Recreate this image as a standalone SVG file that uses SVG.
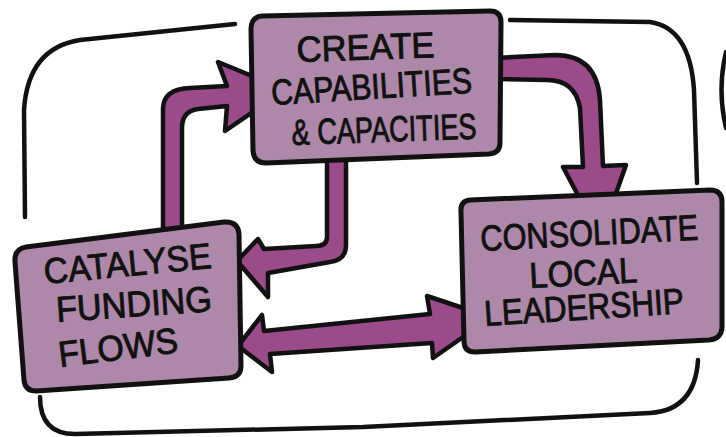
<svg xmlns="http://www.w3.org/2000/svg" width="726" height="437" viewBox="0 0 726 437">
<style>
.frame{fill:none;stroke:#111;stroke-width:4.5;stroke-linecap:round;stroke-linejoin:round}
.arrow{fill:#9b4a8a;stroke:#111;stroke-width:4.5;stroke-linejoin:round}
.box{fill:#ad88a8;stroke:#111;stroke-width:5;stroke-linejoin:round}
.t{font-family:"Liberation Sans","DejaVu Sans",sans-serif;fill:#111;stroke:#111;stroke-width:0.9;font-size:36px}
</style>
<rect width="726" height="437" fill="#ffffff"/>
<g id="frame">
<path class="frame" d="M235,24 L80,40 Q28,48 24,110 L25,217"/>
<path class="frame" d="M510,20 L650,22 Q690,28 694,90 L697,183"/>
<path class="frame" d="M40,397 Q40,434 75,434 L363,427 L650,413 Q695,410 698,360"/>
<path class="frame" d="M726,52 Q717,90 726,128"/>
</g>
<g id="connectors">
<path id="arrow-funding-to-create" class="arrow" d="M163,236 L163,108 Q164,89 190,88 L227,86 L218,62 L257,78 L257,109 L225,131 L227,106 L198,109 Q182,111 182,128 L182,236 Z"/>
<path id="arrow-create-to-funding" class="arrow" d="M327,150 L327,237 Q327,246 316,246 L264,249 L258,239 L237,261 L268,297 L268,273 L330,262 Q346,260 346,245 L346,150 Z"/>
<path id="arrow-funding-leadership" class="arrow" d="M238,346 L262,315 L264,331 L430,314 L427,296 L466,309 L466,335 L433,358 L432,343 L270,354 L272,372 Z"/>
<path id="arrow-create-to-leadership" class="arrow" d="M495,58 L555,55 Q597,55 600,100 L603,166 L626,165 L614,199 L580,199 L563,167 L583,167 L580,108 Q575,80 547,80 L495,79 Z"/>
</g>
<g id="node-create">
<path class="box" d="M262,16 L490,11 Q501,11 501,22 L500,143 Q500,153 489,154 L266,163 Q254,163 253,151 L251,29 Q251,17 262,16 Z"/>
<text class="t" x="297" y="62" font-size="32" textLength="138" lengthAdjust="spacingAndGlyphs" transform="rotate(-2 297 62)">CREATE</text>
<text class="t" x="272" y="105" textLength="201" lengthAdjust="spacingAndGlyphs" transform="rotate(-3.5 272 105)">CAPABILITIES</text>
<text class="t" x="292" y="145" textLength="185" lengthAdjust="spacingAndGlyphs" transform="rotate(-2 292 145)">&amp; CAPACITIES</text>
</g>
<g id="node-catalyse">
<path class="box" d="M26,247 L224,222 Q238,221 239,234 L241,366 Q241,377 229,378 L36,391 Q25,391 24,380 L15,262 Q14,249 26,247 Z"/>
<text class="t" x="45" y="284" textLength="168" lengthAdjust="spacingAndGlyphs" transform="rotate(-5.5 45 284)">CATALYSE</text>
<text class="t" x="57" y="322" textLength="156" lengthAdjust="spacingAndGlyphs" transform="rotate(-4 57 322)">FUNDING</text>
<text class="t" x="60" y="367" textLength="120" lengthAdjust="spacingAndGlyphs" transform="rotate(-7 60 367)">FLOWS</text>
</g>
<g id="node-consolidate">
<path class="box" d="M470,200 L710,190 Q722,190 722,202 L722,328 Q721,339 709,340 L475,352 Q464,352 464,341 L461,212 Q460,201 470,200 Z"/>
<text class="t" x="481" y="251" font-size="33" textLength="218" lengthAdjust="spacingAndGlyphs" transform="rotate(-3 481 251)">CONSOLIDATE</text>
<text class="t" x="530" y="288" font-size="34" textLength="108" lengthAdjust="spacingAndGlyphs" transform="rotate(-3 530 288)">LOCAL</text>
<text class="t" x="485" y="326" textLength="200" lengthAdjust="spacingAndGlyphs" transform="rotate(-3.7 485 326)">LEADERSHIP</text>
</g>
</svg>
